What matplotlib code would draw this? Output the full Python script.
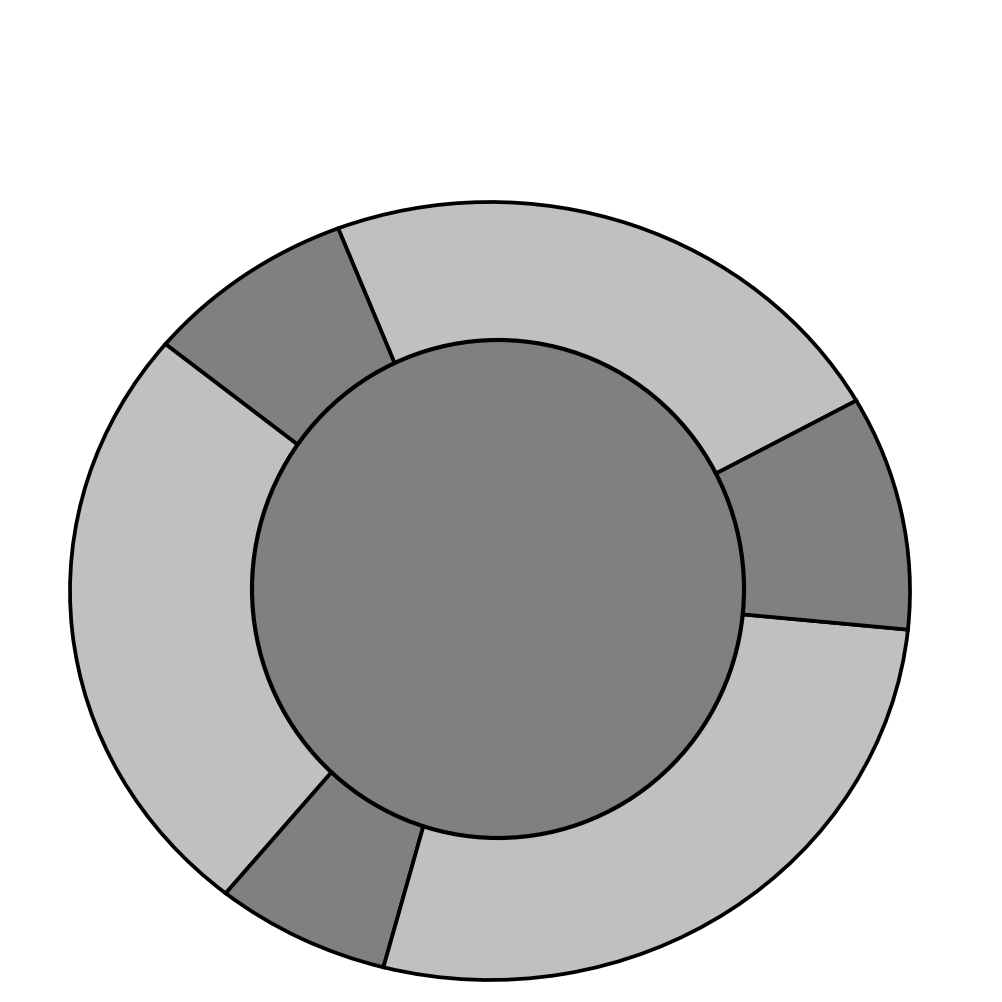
import matplotlib
matplotlib.use('Agg')
import matplotlib.pyplot as plt
from matplotlib.patches import Ellipse

# outer ring segments (share of the ring, counter-clockwise from start angle)
ring_values = [81.9, 29.4, 90.4, 24.3, 99.0, 35.0]
ring_colors = ['#c0c0c0', '#808080', '#c0c0c0', '#808080', '#c0c0c0', '#808080']
start_angle = 29.3

# inner disc
center_color = '#808080'

# outer shape is a bit squashed vertically
ky = 420 / 389.0

fig = plt.figure(figsize=[10.02, 10.02], dpi=100)
ax = fig.add_axes([0, 0, 1, 1])

ax.pie(ring_values, colors=ring_colors, startangle=start_angle, counterclock=True,
       radius=420, center=(490, 411 * ky), frame=True,
       wedgeprops={'edgecolor': 'black', 'linewidth': 2.7})
ax.set_xlim(0, 1002)
ax.set_ylim(0, 1002 * ky)
ax.set_aspect('auto')
ax.axis('off')

inner = Ellipse((498, 413 * ky), 492, 498 * ky, facecolor=center_color,
                edgecolor='black', linewidth=3.0, zorder=5)
ax.add_patch(inner)

plt.savefig('out.png', dpi=100)
